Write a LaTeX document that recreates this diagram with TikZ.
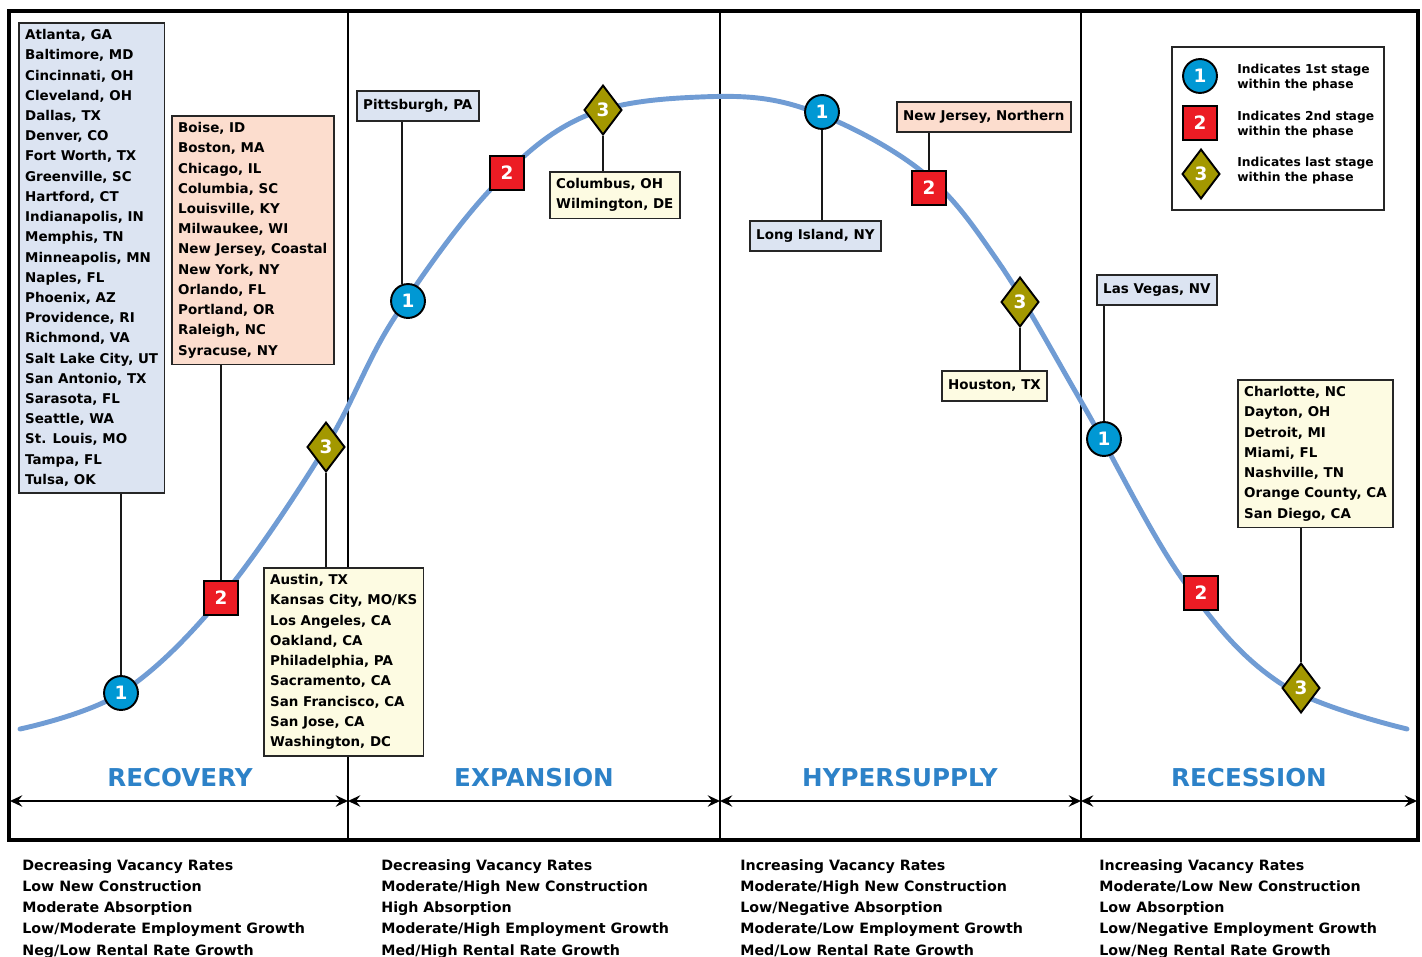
\documentclass[tikz,border=0pt]{standalone}
\usepackage{fontspec}
\setmainfont{DejaVu Sans}
\usetikzlibrary{arrows.meta,shapes.geometric}
\definecolor{curveblue}{RGB}{112,156,212}
\definecolor{phaseblue}{RGB}{45,130,200}
\definecolor{stageblue}{RGB}{0,152,212}
\definecolor{stagered}{RGB}{236,28,36}
\definecolor{stageolive}{RGB}{163,152,0}
\definecolor{boxblue}{RGB}{220,228,242}
\definecolor{boxpeach}{RGB}{252,221,206}
\definecolor{boxcream}{RGB}{253,251,226}

\begin{document}
\begin{tikzpicture}[x=0.02cm,y=-0.02cm,
  city/.style={draw=black!85,line width=1pt,anchor=north west,align=left,
    inner xsep=3.6pt,inner ysep=3.8pt,text=black,
    font=\bfseries\fontsize{7.65}{11.5}\selectfont},
  tag/.style={city,minimum height=17pt},
  one/.style={circle,draw=black,line width=1.1pt,fill=stageblue,
    minimum size=19.3pt,inner sep=0pt,text=white,
    font=\bfseries\fontsize{10.5}{12}\selectfont},
  two/.style={one,rectangle,fill=stagered},
  three/.style={one,diamond,fill=stageolive,minimum width=21.5pt,
    minimum height=28.3pt},
  lead/.style={line width=0.9pt,black!90},
  phase/.style={text=phaseblue,font=\bfseries\fontsize{14}{16}\selectfont},
  span/.style={{Stealth[length=7pt,width=6.5pt,inset=2.5pt]}-{Stealth[length=7pt,width=6.5pt,inset=2.5pt]},
    line width=1.1pt},
  trait/.style={anchor=north west,align=left,inner sep=0pt,text=black,
    font=\bfseries\fontsize{8.1}{12.1}\selectfont},
  key/.style={anchor=west,align=left,inner sep=0pt,text=black,
    font=\bfseries\fontsize{7}{8.5}\selectfont}]

\useasboundingbox (0,0) rectangle (1422,956);

% frame and phase dividers
\draw[line width=1.8pt] (9,11) rectangle (1418,840);
\foreach \x in {348,720,1081}
  \draw[line width=0.7pt] (\x,11) -- (\x,840);

% ---- phase spans ----
\coordinate (p0) at (10,801);
\coordinate (p1) at (348,801);
\coordinate (p2) at (720,801);
\coordinate (p3) at (1081,801);
\coordinate (p4) at (1417,801);
\draw[span] (p0) -- (p1);
\draw[span] (p1) -- (p2);
\draw[span] (p2) -- (p3);
\draw[span] (p3) -- (p4);
\node[phase] (rec) at (180,778) {RECOVERY};
\node[phase] (exp) at (534,778) {EXPANSION};
\node[phase] (hyp) at (900,778) {HYPERSUPPLY};
\node[phase] (res) at (1249,778) {RECESSION};

% ---- market cycle curve ----
\draw[curveblue,line width=2.8pt,line cap=round] plot[smooth,tension=0.6]
  coordinates {(20,729) (121,693) (221,598) (325,448) (393,320) (490,190)
  (583,117) (700,97) (803,108) (920,170) (997,260) (1082,403) (1183,580)
  (1280,683) (1407,729)};

% ---- metro lists ----
\node[city,fill=boxblue] (atl) at (18,22) {Atlanta, GA\\Baltimore, MD\\
  Cincinnati, OH\\Cleveland, OH\\Dallas, TX\\Denver, CO\\Fort Worth, TX\\
  Greenville, SC\\Hartford, CT\\Indianapolis, IN\\Memphis, TN\\
  Minneapolis, MN\\Naples, FL\\Phoenix, AZ\\Providence, RI\\Richmond, VA\\
  Salt Lake City, UT\\San Antonio, TX\\Sarasota, FL\\Seattle, WA\\
  St. Louis, MO\\Tampa, FL\\Tulsa, OK};
\node[city,fill=boxpeach] (boi) at (171,115) {Boise, ID\\Boston, MA\\
  Chicago, IL\\Columbia, SC\\Louisville, KY\\Milwaukee, WI\\
  New Jersey, Coastal\\New York, NY\\Orlando, FL\\Portland, OR\\
  Raleigh, NC\\Syracuse, NY};
\node[city,fill=boxcream] (aus) at (263,567) {Austin, TX\\
  Kansas City, MO/KS\\Los Angeles, CA\\Oakland, CA\\Philadelphia, PA\\
  Sacramento, CA\\San Francisco, CA\\San Jose, CA\\Washington, DC};
\node[tag,fill=boxblue] (pit) at (356,90) {Pittsburgh, PA};
\node[city,fill=boxcream] (col) at (549,171) {Columbus, OH\\Wilmington, DE};
\node[tag,fill=boxblue] (lon) at (749,220) {Long Island, NY};
\node[tag,fill=boxpeach] (nje) at (896,101) {New Jersey, Northern};
\node[tag,fill=boxcream] (hou) at (941,370) {Houston, TX};
\node[tag,fill=boxblue] (las) at (1096,274) {Las Vegas, NV};
\node[city,fill=boxcream] (cha) at (1237,379) {Charlotte, NC\\Dayton, OH\\
  Detroit, MI\\Miami, FL\\Nashville, TN\\Orange County, CA\\San Diego, CA};

% ---- stage markers ----
\node[one] (r1) at (121,693) {1};
\node[two] (r2) at (221,598) {2};
\node[three] (r3) at (326,447) {3};
\node[one] (e1) at (408,301) {1};
\node[two] (e2) at (507,173) {2};
\node[three] (e3) at (603,110) {3};
\node[one] (h1) at (822,112) {1};
\node[two] (h2) at (929,188) {2};
\node[three] (h3) at (1020,302) {3};
\node[one] (c1) at (1104,439) {1};
\node[two] (c2) at (1201,593) {2};
\node[three] (c3) at (1301,688) {3};

% leaders from markers to lists
\draw[lead] (r1) -- (r1 |- atl.south);
\draw[lead] (r2) -- (r2 |- boi.south);
\draw[lead] (r3) -- (r3 |- aus.north);
\draw[lead] (e1.110) -- (e1.110 |- pit.south);
\draw[lead] (e3) -- (e3 |- col.north);
\draw[lead] (h1) -- (h1 |- lon.north);
\draw[lead] (h2) -- (h2 |- nje.south);
\draw[lead] (h3) -- (h3 |- hou.north);
\draw[lead] (c1) -- (c1 |- las.south);
\draw[lead] (c3) -- (c3 |- cha.south);

% ---- legend ----
\node[draw=black!85,line width=1pt,anchor=north west,minimum width=120.7pt,
  minimum height=93pt] (legend) at (1171,46) {};
\node[one] (k1) at (1200,76) {1};
\node[two] (k2) at (1200,123) {2};
\node[three] (k3) at (1201,174) {3};
\node[key] (t1) at (1237,78) {Indicates 1st stage\\within the phase};
\node[key] (t2) at (1237,124.5) {Indicates 2nd stage\\within the phase};
\node[key] (t3) at (1237,171) {Indicates last stage\\within the phase};

% ---- phase traits ----
\node[trait] (trec) at (22,859) {Decreasing Vacancy Rates\\
  Low New Construction\\Moderate Absorption\\
  Low/Moderate Employment Growth\\Neg/Low Rental Rate Growth};
\node[trait] (texp) at (381,859) {Decreasing Vacancy Rates\\
  Moderate/High New Construction\\High Absorption\\
  Moderate/High Employment Growth\\Med/High Rental Rate Growth};
\node[trait] (thyp) at (740,859) {Increasing Vacancy Rates\\
  Moderate/High New Construction\\Low/Negative Absorption\\
  Moderate/Low Employment Growth\\Med/Low Rental Rate Growth};
\node[trait] (tres) at (1099,859) {Increasing Vacancy Rates\\
  Moderate/Low New Construction\\Low Absorption\\
  Low/Negative Employment Growth\\Low/Neg Rental Rate Growth};
\end{tikzpicture}
\end{document}
